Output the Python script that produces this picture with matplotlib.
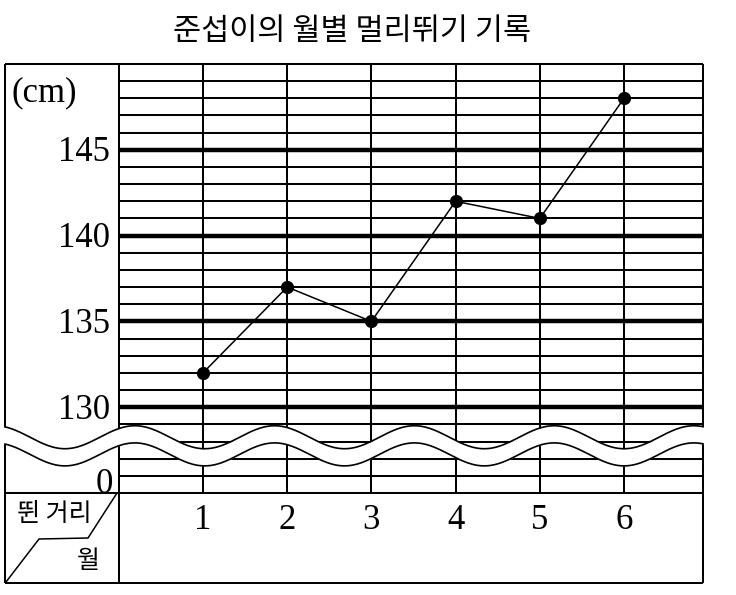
import numpy as np
import matplotlib
matplotlib.use('Agg')
import matplotlib.pyplot as plt

plt.rcParams['font.family'] = ['Noto Sans CJK KR', 'DejaVu Sans']

# chart data
title = '준섭이의 월별 멀리뛰기 기록'
months = [1, 2, 3, 4, 5, 6]
distances = [132, 137, 135, 142, 141, 148]
major_values = [145, 140, 135, 130]
major_labels = ['145', '140', '135', '130']
unit_label = '(cm)'
zero_label = '0'
row_label = '뛴 거리'
col_label = '월'

# the axis is broken below 129: the value 0 is drawn on the grid line at 125
y_base = 125
y_top = 150

# pixel anchors of the grid (figure is 736 x 595 px)
W, H = 736, 595
px_x0 = 118.8        # pixel x of month 0 (inner left border)
px_per_month = 84.2
px_y_base = 493      # pixel y of the bottom grid line
px_per_cm = 17.16


def mx(px):
    return (px - px_x0) / px_per_month


def my(py):
    return y_base + (px_y_base - py) / px_per_cm


fig = plt.figure(figsize=(W / 100, H / 100), dpi=100)
ax = fig.add_axes([0, 0, 1, 1])
ax.set_xlim(mx(0), mx(W))
ax.set_ylim(my(H), my(0))
ax.axis('off')

x_left, x_right = mx(5), mx(703)
y_bottom = my(583)

thin = 1.45
thick = 3.2

# horizontal grid lines
for v in range(y_base + 1, y_top):
    if v in major_values:
        ax.hlines(v, 0, x_right, color='black', lw=thick, zorder=1)
    else:
        ax.hlines(v, 0.02, x_right, color='black', lw=thin, zorder=1)

# vertical month lines
ax.vlines(months, y_base, y_top, color='black', lw=thin, zorder=1)

# frame and table lines
ax.vlines([x_left, 0, x_right], y_bottom, y_top, color='black', lw=thin, zorder=1)
ax.hlines([y_top, y_base, y_bottom], x_left, x_right, color='black', lw=thin, zorder=1)

# broken line in the header cell
ax.plot([mx(117), mx(88), mx(39), mx(6)], [my(493), my(538), my(539), my(582)],
        color='black', lw=1.1, zorder=2)

# wavy break of the axis
wx = np.linspace(x_left, x_right, 500)
upper = 128.25 + 0.67 * np.cos(2 * np.pi * (wx - 0.19) / 1.66)
lower = upper - 1.0
fx = np.linspace(x_left - 0.03, x_right + 0.03, 500)
fu = 128.25 + 0.67 * np.cos(2 * np.pi * (fx - 0.19) / 1.66)
ax.fill_between(fx, fu - 1.0, fu, color='white', zorder=3, lw=0)
ax.plot(wx, upper, color='black', lw=1.2, zorder=4)
ax.plot(wx, lower, color='black', lw=1.2, zorder=4)

# data line
ax.plot(months, distances, color='black', lw=1.1, marker='o', markersize=8.5, zorder=5)

# labels
serif = ['Liberation Serif', 'DejaVu Serif']
ax.text(mx(12), my(93), unit_label, family=serif, fontsize=25, ha='left', va='center')
for v, lab in zip(major_values, major_labels):
    ax.text(mx(110), v - 0.18, lab, family=serif, fontsize=25, ha='right', va='center')
ax.text(mx(113), y_base, zero_label, family=serif, fontsize=25, ha='right', va='baseline')
for m in months:
    ax.text(m, my(520), str(m), family=serif, fontsize=25, ha='center', va='center')

ax.text(mx(54), my(514), row_label, fontsize=18, ha='center', va='center')
ax.text(mx(88), my(561), col_label, fontsize=18, ha='center', va='center')

fig.text(352 / W, 1 - 31 / H, title, fontsize=22, ha='center', va='center')

fig.savefig('out.png', dpi=100)
